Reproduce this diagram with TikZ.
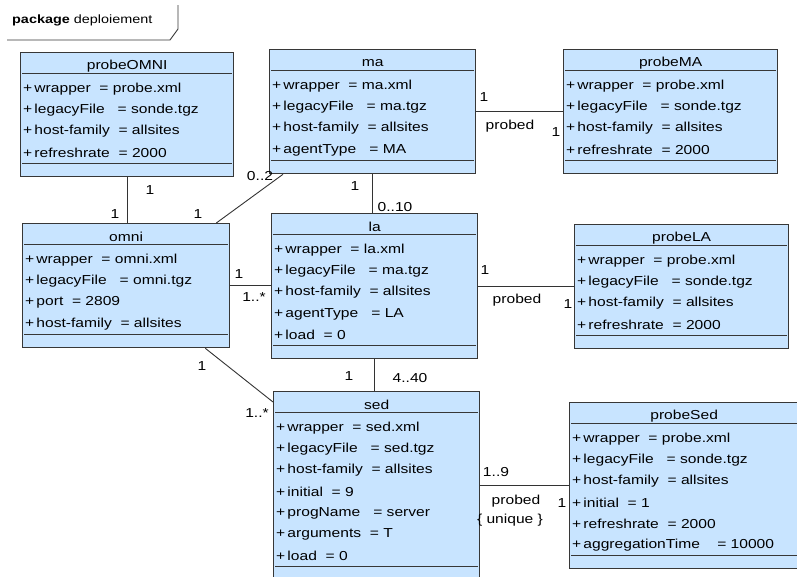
\documentclass[tikz,border=0pt]{standalone}
\usepackage{fontspec}
\setmainfont[FakeStretch=1.2]{Liberation Sans}
\usepackage{tikz}

\definecolor{classfill}{RGB}{200,228,255}
\definecolor{classline}{RGB}{55,55,55}

\tikzset{
  classbox/.style={draw=classline, line width=1.3pt, fill=classfill, anchor=north west, inner sep=0pt},
  classtitle/.style={inner sep=0pt, font=\fontsize{13}{15}\selectfont},
  sepline/.style={draw=classline, line width=1pt},
  attr/.style={anchor=west, inner sep=0pt, font=\fontsize{13}{15}\selectfont},
  assoc/.style={draw=black!80, line width=0.9pt},
  mult/.style={inner sep=0pt, font=\fontsize{13}{15}\selectfont},
}

% name, left, top, width, height, attributes
\newcommand\umlclass[6]{%
  \node[classbox, minimum width=#4pt, minimum height=#5pt] (#1) at (#2,#3) {};
  \node[classtitle] (#1-title) at ([yshift=-14pt]#1.north) {#1};
  \draw[sepline] ([xshift=2pt,yshift=-21pt]#1.north west) -- ([xshift=-2pt,yshift=-21pt]#1.north east);
  \foreach \attr [count=\row from 0] in {#6}
    \node[attr] (#1-a\row) at ({#2+3},{#3+37+21.3*\row}) {\attr};
  \draw[sepline] ([xshift=2pt,yshift=14pt]#1.south west) -- ([xshift=-2pt,yshift=14pt]#1.south east);
}

\begin{document}
\begin{tikzpicture}[x=1pt,y=-1pt]
\useasboundingbox (0,0) rectangle (797,576);

% package frame
\node[anchor=west, inner sep=0pt, font=\fontsize{12}{14}\selectfont] (pkg) at (12,20) {\textbf{package} deploiement};
\draw[classline, line width=0.9pt] (7,40) -- (170,40) -- (178,29) -- (178,5);

% classes
\umlclass{probeOMNI}{20}{52}{213}{124}{+\,wrapper~~= probe.xml, +\,legacyFile~~~= sonde.tgz, +\,host-family~~= allsites, +\,refreshrate~~= 2000}
\umlclass{ma}{269}{49}{206}{124}{+\,wrapper~~= ma.xml, +\,legacyFile~~~= ma.tgz, +\,host-family~~= allsites, +\,agentType~~~= MA}
\umlclass{probeMA}{563}{49}{214}{124}{+\,wrapper~~= probe.xml, +\,legacyFile~~~= sonde.tgz, +\,host-family~~= allsites, +\,refreshrate~~= 2000}
\umlclass{omni}{22}{223}{207}{124}{+\,wrapper~~= omni.xml, +\,legacyFile~~~= omni.tgz, +\,port~~= 2809, +\,host-family~~= allsites}
\umlclass{la}{271}{213}{206}{145}{+\,wrapper~~= la.xml, +\,legacyFile~~~= ma.tgz, +\,host-family~~= allsites, +\,agentType~~~= LA, +\,load~~= 0}
\umlclass{probeLA}{574}{224}{214}{124}{+\,wrapper~~= probe.xml, +\,legacyFile~~~= sonde.tgz, +\,host-family~~= allsites, +\,refreshrate~~= 2000}
\umlclass{sed}{273}{391}{206}{188}{+\,wrapper~~= sed.xml, +\,legacyFile~~~= sed.tgz, +\,host-family~~= allsites, +\,initial~~= 9, +\,progName~~~= server, +\,arguments~~= T, +\,load~~= 0}
\umlclass{probeSed}{569}{402}{229}{166}{+\,wrapper~~= probe.xml, +\,legacyFile~~~= sonde.tgz, +\,host-family~~= allsites, +\,initial~~= 1, +\,refreshrate~~= 2000, +\,aggregationTime~~~~= 10000}

% associations
\draw[assoc] (probeOMNI.south) -- (probeOMNI.south |- omni.north);
\draw[assoc] ([xshift=-14pt]omni.north east) -- ([xshift=14pt]ma.south west);
\draw[assoc] (ma.south) -- (ma.south |- la.north);
\draw[assoc] (ma.east) -- (probeMA.west);
\draw[assoc] (omni.east) -- (omni.east -| la.west);
\draw[assoc] (la.east) -- (la.east -| probeLA.west);
\draw[assoc] ([xshift=-25pt]omni.south east) -- ([yshift=-11pt]sed.north west);
\draw[assoc] (la.south) -- (la.south |- sed.north);
\draw[assoc] (probeSed.west) -- (probeSed.west -| sed.east);

% multiplicities and roles
\node[mult] (m1) at (150,190) {1};
\node[mult] (m2) at (115,214) {1};
\node[mult] (m3) at (260,176) {0..2};
\node[mult] (m4) at (198,214) {1};
\node[mult] (m5) at (355,186) {1};
\node[mult] (m6) at (395,207) {0..10};
\node[mult] (m7) at (484,97) {1};
\node[mult] (m8) at (510,126) {probed};
\node[mult] (m9) at (556,132) {1};
\node[mult] (m10) at (239,274) {1};
\node[mult] (m11) at (254,297) {1..*};
\node[mult] (m12) at (485,270) {1};
\node[mult] (m13) at (517,300) {probed};
\node[mult] (m14) at (568,304) {1};
\node[mult] (m15) at (202,366) {1};
\node[mult] (m16) at (257,413) {1..*};
\node[mult] (m17) at (349,376) {1};
\node[mult] (m18) at (410,378) {4..40};
\node[mult] (m19) at (496,472) {1..9};
\node[mult] (m20) at (516,501) {probed};
\node[mult] (m21) at (510,520) {\{ unique \}};
\node[mult] (m22) at (562,503) {1};
\end{tikzpicture}
\end{document}
